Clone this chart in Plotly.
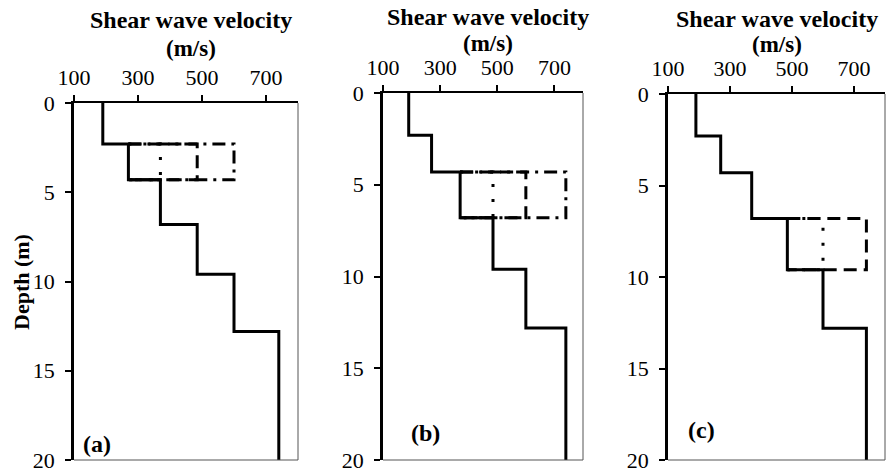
import plotly.graph_objects as go

# ---- data ----
layer_top_depths = [0, 2.3, 4.3, 6.8, 9.6, 12.8]
profile_bottom = 20
vs_layers = [190, 270, 370, 485, 600, 740]

panel_labels = ["(a)", "(b)", "(c)"]
panel_layer = [1, 2, 3]  # index of the modified layer in each panel
alt_velocities = [
    [370, 485, 600],   # (a): dotted, dashed, dash-dot
    [485, 600, 740],   # (b)
    [600, 740],        # (c)
]
alt_dashes = ["3px,12px", "13px,7px", "13px,6px,3px,6px"]

x_ticks = [100, 300, 500, 700]
x_range = [100, 800]
y_ticks = [0, 5, 10, 15, 20]
y_range = [20, 0]

title_line1 = "Shear wave velocity"
title_line2 = "(m/s)"
y_title = "Depth (m)"

W, H = 886, 475
# plot areas in pixels (left, right, top, bottom)
areas = [(74, 298, 103, 460), (383, 583, 93, 460), (668, 885, 94, 460)]
title_x = [191, 488, 777]
title_y1 = [20, 17, 19]
title_y2 = [48, 44, 45]
label_pos = [(97, 444), (425, 433), (701, 430)]

FONT = "'Liberation Serif', 'Times New Roman', 'DejaVu Serif', serif"

fig = go.Figure()
layout = dict(
    width=W, height=H, margin=dict(l=0, r=0, t=0, b=0, autoexpand=False),
    paper_bgcolor="white", plot_bgcolor="white", showlegend=False,
    font=dict(family=FONT, color="black", size=22),
)

annotations = []
shapes = []
for i in range(3):
    sfx = "" if i == 0 else str(i + 1)
    xa, ya = "x" + sfx, "y" + sfx
    l, r, t, b = areas[i]

    # step profile
    px = vs_layers + [vs_layers[-1]]
    py = layer_top_depths + [profile_bottom]
    fig.add_trace(go.Scatter(x=px, y=py, mode="lines", line_shape="vh",
                             line=dict(color="black", width=3),
                             xaxis=xa, yaxis=ya, hoverinfo="skip", cliponaxis=False))
    # alternative boxes
    L = panel_layer[i]
    base = vs_layers[L]
    top, bot = layer_top_depths[L], layer_top_depths[L + 1]
    for k, v in enumerate(alt_velocities[i]):
        fig.add_trace(go.Scatter(x=[base, v, v, base], y=[top, top, bot, bot],
                                 mode="lines",
                                 line=dict(color="black", width=3, dash=alt_dashes[k]),
                                 xaxis=xa, yaxis=ya, hoverinfo="skip"))

    layout["xaxis" + sfx] = dict(
        domain=[l / W, r / W], anchor=ya, side="top", range=x_range,
        tickvals=x_ticks, ticks="outside", ticklen=6, tickwidth=2, tickcolor="black",
        showline=True, linewidth=2, linecolor="black", showgrid=False, zeroline=False,
        tickfont=dict(size=22, family=FONT), ticklabelstandoff=1, automargin=False,
    )
    layout["yaxis" + sfx] = dict(
        domain=[1 - b / H, 1 - t / H], anchor=xa, range=y_range,
        tickvals=y_ticks, ticks="outside", ticklen=6, tickwidth=2, tickcolor="black",
        showline=True, linewidth=2.5, linecolor="black", showgrid=False, zeroline=False,
        tickfont=dict(size=22, family=FONT), ticklabelstandoff=6, automargin=False,
    )
    # thin frame right/bottom
    shapes.append(dict(type="line", xref=xa + " domain", yref=ya + " domain",
                       x0=1, x1=1, y0=0, y1=1, line=dict(color="#555", width=1)))
    shapes.append(dict(type="line", xref=xa + " domain", yref=ya + " domain",
                       x0=0, x1=1, y0=0, y1=0, line=dict(color="#555", width=1)))

    cx = title_x[i] / W
    annotations.append(dict(
        text="<b>" + title_line1 + "</b>", xref="paper", yref="paper",
        x=cx, y=1 - title_y1[i] / H, xanchor="center", yanchor="middle",
        showarrow=False, font=dict(size=24, family=FONT)))
    annotations.append(dict(
        text="<b>" + title_line2 + "</b>", xref="paper", yref="paper",
        x=cx, y=1 - title_y2[i] / H, xanchor="center", yanchor="middle",
        showarrow=False, font=dict(size=23, family=FONT)))
    lx, ly = label_pos[i]
    annotations.append(dict(
        text="<b>" + panel_labels[i] + "</b>", xref="paper", yref="paper",
        x=lx / W, y=1 - ly / H, xanchor="center", yanchor="middle",
        showarrow=False, font=dict(size=24, family=FONT)))

annotations.append(dict(
    text="<b>" + y_title + "</b>", xref="paper", yref="paper", x=21 / W, y=1 - 282 / H,
    xanchor="center", yanchor="middle", textangle=-90, showarrow=False,
    font=dict(size=22, family=FONT)))

layout["annotations"] = annotations
layout["shapes"] = shapes
fig.update_layout(**layout)
fig.write_html("out.html")
